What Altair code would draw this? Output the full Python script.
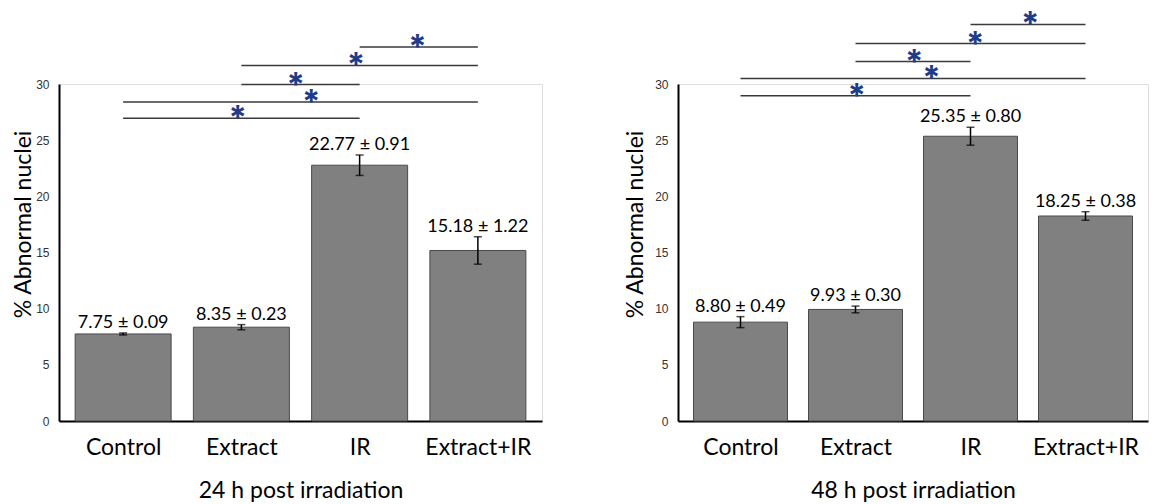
import altair as alt
import pandas as pd

categories = ["Control", "Extract", "IR", "Extract+IR"]
mean_24h = [7.75, 8.35, 22.77, 15.18]
sem_24h = [0.09, 0.23, 0.91, 1.22]
mean_48h = [8.80, 9.93, 25.35, 18.25]
sem_48h = [0.49, 0.30, 0.80, 0.38]

# significance brackets: first group index, second group index, height (y units), star position (x units)
pair_from = [2, 1, 1, 0, 0]
pair_to = [3, 3, 2, 3, 2]
level_24h = [33.3, 31.65, 29.95, 28.4, 26.95]
star_x_24h = [2.49, 1.97, 1.46, 1.59, 0.97]
level_48h = [35.3, 33.6, 32.0, 30.5, 28.95]
star_x_48h = [2.52, 2.04, 1.51, 1.66, 1.01]

panel_titles = ["24 h post irradiation", "48 h post irradiation"]
y_title = "% Abnormal nuclei"
y_ticks = [0, 5, 10, 15, 20, 25, 30]

FONT = "Lato"
label_expr = "[" + ",".join("'" + c + "'" for c in categories) + "][datum.value]"


def panel(means, sems, levels, star_x, title, width, bar_size, title_x):
    df = pd.DataFrame({
        "pos": list(range(len(categories))),
        "cat": categories,
        "mean": means,
        "sem": sems,
    })
    df["lo"] = df["mean"] - df["sem"]
    df["hi"] = df["mean"] + df["sem"]
    df["label"] = [f"{m:.2f} \u00b1 {s:.2f}" for m, s in zip(means, sems)]

    sig = pd.DataFrame({"a": pair_from, "b": pair_to, "level": levels, "sx": star_x})
    sig["star"] = "*"

    xscale = alt.Scale(domain=[-0.5, 3.5], nice=False, zero=False)
    yscale = alt.Scale(domain=[0, 30], nice=False)

    base = alt.Chart(df)
    bars = base.mark_bar(size=bar_size, color="#808080", stroke="#4a4a4a", strokeWidth=1).encode(
        x=alt.X("pos:Q", scale=xscale, axis=alt.Axis(
            values=[0, 1, 2, 3], labelExpr=label_expr, title=title,
            ticks=False, grid=False, domainColor="black", domainWidth=2,
            labelFont=FONT, labelFontSize=23, labelColor="black", labelPadding=15,
            titleFont=FONT, titleFontSize=23, titleFontWeight="normal", titleColor="black",
            titleBaseline="alphabetic", titleY=76, titleX=width / 2, titleAlign="center")),
        y=alt.Y("mean:Q", scale=yscale, axis=alt.Axis(
            values=y_ticks, title=y_title, ticks=False, grid=False,
            domainColor="black", domainWidth=2,
            labelFont="Liberation Sans", labelFontSize=12, labelColor="#333333", labelPadding=10,
            titleFont=FONT, titleFontSize=23, titleFontWeight="normal", titleColor="black",
            titleAngle=270, titleBaseline="alphabetic", titleAlign="center",
            titleX=title_x, titleY=140)),
    )
    err = base.mark_rule(color="black", strokeWidth=1.5).encode(x="pos:Q", y="lo:Q", y2="hi:Q")
    cap_hi = base.mark_tick(orient="horizontal", size=8, thickness=1.5, color="black").encode(x="pos:Q", y="hi:Q")
    cap_lo = base.mark_tick(orient="horizontal", size=8, thickness=1.5, color="black").encode(x="pos:Q", y="lo:Q")
    labels = base.mark_text(baseline="alphabetic", dy=-5, font=FONT, fontSize=18, color="black").encode(
        x="pos:Q", y="hi:Q", text="label:N")
    lines = alt.Chart(sig).mark_rule(color="#3a3a3a", strokeWidth=1.5).encode(
        x="a:Q", x2="b:Q", y="level:Q")
    stars = alt.Chart(sig).mark_text(font="Inter", fontWeight="bold", fontSize=33,
                                     color="#1f3c88", baseline="alphabetic", dy=11).encode(
        x="sx:Q", y="level:Q", text="star:N")
    return alt.layer(bars, err, cap_hi, cap_lo, labels, lines, stars).properties(width=width, height=337)


left = panel(mean_24h, sem_24h, level_24h, star_x_24h, panel_titles[0], 483, 96, -29)
right = panel(mean_48h, sem_48h, level_48h, star_x_48h, panel_titles[1], 470, 94, -36)

chart = alt.hconcat(left, right, spacing=136, bounds="flush").properties(
    padding={"left": 3, "top": 0, "right": 0, "bottom": 0}
).configure_view(stroke=None).configure(background="white")

chart.save("out.html", embed_options={"renderer": "svg", "actions": False})
